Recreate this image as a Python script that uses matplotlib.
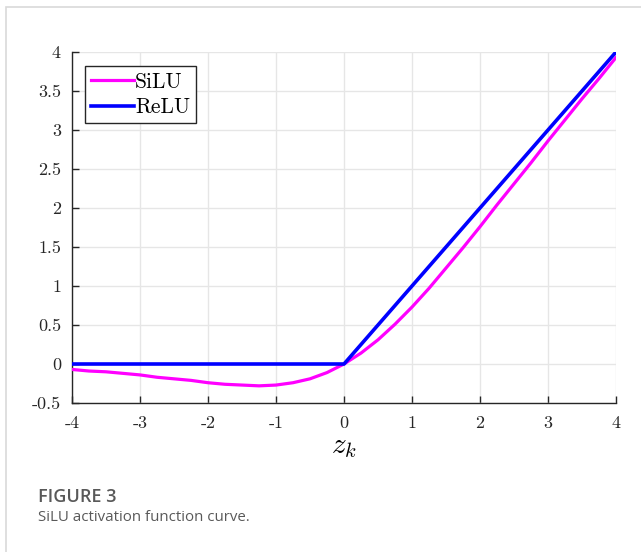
import matplotlib
matplotlib.use("Agg")
import matplotlib.pyplot as plt
from matplotlib.patches import Rectangle

# values
x_silu = [-4, -3.75, -3.5, -3.25, -3, -2.75, -2.5, -2.25, -2, -1.75, -1.5, -1.25,
          -1, -0.75, -0.5, -0.25, 0, 0.25, 0.5, 0.75, 1, 1.25, 1.5, 1.75,
          2, 2.25, 2.5, 2.75, 3, 3.25, 3.5, 3.75, 4]
y_silu = [-0.07, -0.09, -0.10, -0.12, -0.14, -0.17, -0.19, -0.21, -0.24, -0.26, -0.27, -0.28,
          -0.27, -0.24, -0.19, -0.11, 0.0, 0.14, 0.31, 0.51, 0.73, 0.97, 1.23, 1.49,
          1.76, 2.04, 2.31, 2.58, 2.86, 3.13, 3.40, 3.66, 3.93]
x_relu = [-4, 0, 4]
y_relu = [0, 0, 4]

xticks = [-4, -3, -2, -1, 0, 1, 2, 3, 4]
yticks = [-0.5, 0, 0.5, 1, 1.5, 2, 2.5, 3, 3.5, 4]
ytick_labels = ['-0.5', '0', '0.5', '1', '1.5', '2', '2.5', '3', '3.5', '4']

plt.rcParams['mathtext.fontset'] = 'cm'
tick_font = 'cmr10'

fig = plt.figure(figsize=(6.41, 5.52), dpi=100)

# light gray frame around the figure panel
fig.patches.append(Rectangle((6 / 641, -0.1), 1.2, 1.1 - 7 / 552,
                             transform=fig.transFigure, fill=False,
                             edgecolor='#d9d9d9', linewidth=1.2))

ax = fig.add_axes([72 / 641, 1 - 403 / 552, 544 / 641, 351 / 552])

ax.plot(x_silu, y_silu, color='#ff00ff', linewidth=2.3, label='SiLU', zorder=3)
ax.plot(x_relu, y_relu, color='#0000ff', linewidth=2.6, label='ReLU', zorder=4)

ax.set_xlim(-4, 4)
ax.set_ylim(-0.5, 4)
ax.set_xticks(xticks)
ax.set_xticklabels([str(t) for t in xticks], fontfamily=tick_font, fontsize=13)
ax.set_yticks(yticks)
ax.set_yticklabels(ytick_labels, fontfamily=tick_font, fontsize=13)
ax.tick_params(direction='in', length=5, width=1, colors='#262626')
ax.tick_params(axis='x', pad=9)
ax.tick_params(axis='y', pad=8)

ax.grid(True, color='#e6e6e6', linewidth=1)
ax.set_axisbelow(True)
for side in ['top', 'right']:
    ax.spines[side].set_visible(False)
for side in ['left', 'bottom']:
    ax.spines[side].set_color('#262626')
    ax.spines[side].set_linewidth(1)

ax.set_xlabel('$z_k$', fontsize=21, labelpad=1)

leg = ax.legend(loc='upper left', bbox_to_anchor=(13 / 544, 1 - 14 / 351),
                prop={'family': tick_font, 'size': 15.5},
                fancybox=False, edgecolor='#262626', framealpha=1,
                handlelength=2.0, handletextpad=0.05, borderpad=0.28,
                labelspacing=0.28, borderaxespad=0)
leg.get_frame().set_linewidth(1)

fig.text(38 / 641, 1 - 502 / 552, 'FIGURE 3', fontfamily='Open Sans',
         fontweight='semibold', fontsize=13, color='#595959', va='baseline')
fig.text(38 / 641, 1 - 521 / 552, 'SiLU activation function curve.',
         fontfamily='Open Sans', fontsize=10.8, color='#595959', va='baseline')

fig.savefig('out.png', dpi=100)
